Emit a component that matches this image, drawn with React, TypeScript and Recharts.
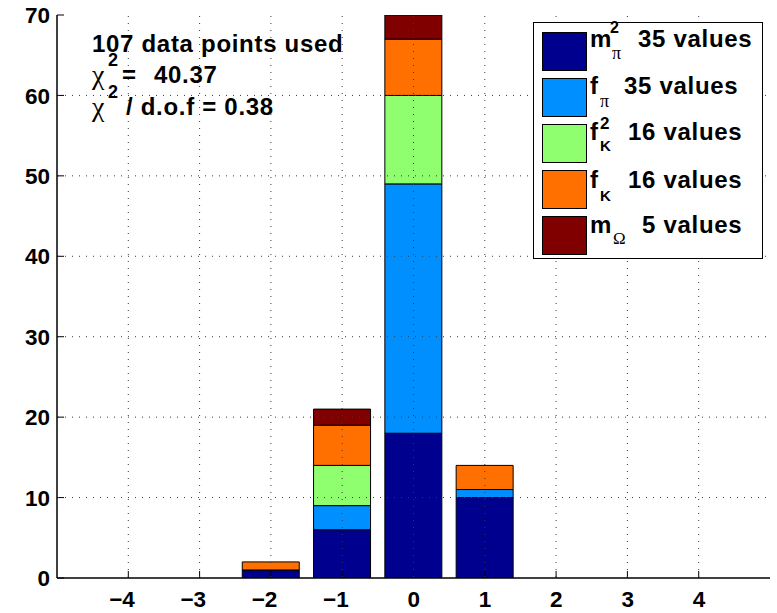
import React from 'react';
import { BarChart, Bar, XAxis, YAxis, Legend } from 'recharts';

const bins = [-4, -3, -2, -1, 0, 1, 2, 3, 4];
const mPi2 = [0, 0, 1, 6, 18, 10, 0, 0, 0];
const fPi = [0, 0, 0, 3, 31, 1, 0, 0, 0];
const fK2 = [0, 0, 0, 5, 11, 0, 0, 0, 0];
const fK = [0, 0, 1, 5, 7, 3, 0, 0, 0];
const mOmega = [0, 0, 0, 2, 3, 0, 0, 0, 0];

const seriesKeys = ['mPi2', 'fPi', 'fK2', 'fK', 'mOmega'];
const seriesColors = ['#00008F', '#008FFF', '#8FFF70', '#FF7000', '#800000'];
const seriesCounts = [35, 35, 16, 16, 5];

const xTicks = [-4, -3, -2, -1, 0, 1, 2, 3, 4];
const yTicks = [0, 10, 20, 30, 40, 50, 60, 70];
const xDomain = [-5, 5];
const yDomain = [0, 70];

const noteLine1 = '107 data points used';
const chi2Value = '40.37';
const chi2PerDof = '0.38';

const data = bins.map((b, i) => ({
  bin: b,
  mPi2: mPi2[i],
  fPi: fPi[i],
  fK2: fK2[i],
  fK: fK[i],
  mOmega: mOmega[i],
}));

const W = 777;
const H = 613;
const MARGIN = { top: 15, right: 7, bottom: 0, left: 0 };
const Y_AXIS_W = 57;
const X_AXIS_H = 35;
const PLOT = {
  x: MARGIN.left + Y_AXIS_W,
  y: MARGIN.top,
  w: W - MARGIN.left - Y_AXIS_W - MARGIN.right,
  h: H - MARGIN.top - MARGIN.bottom - X_AXIS_H,
};

const FONT = '"Liberation Sans", Arial, Helvetica, sans-serif';
const SERIF = '"Liberation Serif", "DejaVu Serif", serif';
const BIG = 24;
const LS = 0.7;
const TICKFS = 22.5;

const LegendBox = () => {
  const rowsY = [32, 78, 124, 170, 216];
  const base = [47, 94, 140, 188, 233];
  const valueX = [638, 624, 628, 628, 642];
  return (
    <svg width={W} height={H} style={{ position: 'absolute', left: 0, top: 0, overflow: 'visible', pointerEvents: 'none' }}>
      <rect x={533.5} y={22.5} width={229} height={236} fill="#fff" stroke="#000" strokeWidth={1} />
      {seriesKeys.map((k, i) => (
        <rect key={k} x={542.5} y={rowsY[i] + 0.5} width={44} height={38} fill={seriesColors[i]} stroke="#000" strokeWidth={1} />
      ))}
      <g fontFamily={FONT} fontWeight="bold" fill="#000">
        <text x={590} y={base[0]} fontSize={BIG}>m</text>
        <text x={610} y={33} fontSize={16}>2</text>
        <text x={612} y={59} fontSize={18} fontFamily={SERIF} fontWeight="normal">π</text>
        <text x={590} y={base[1]} fontSize={BIG}>f</text>
        <text x={600} y={107} fontSize={18} fontFamily={SERIF} fontWeight="normal">π</text>
        <text x={590} y={base[2]} fontSize={BIG}>f</text>
        <text x={600} y={129} fontSize={17}>2</text>
        <text x={600} y={151} fontSize={15}>K</text>
        <text x={590} y={base[3]} fontSize={BIG}>f</text>
        <text x={600} y={201} fontSize={15}>K</text>
        <text x={590} y={base[4]} fontSize={BIG}>m</text>
        <text x={613} y={244} fontSize={17} fontFamily={SERIF} fontWeight="normal">Ω</text>
        {seriesCounts.map((c, i) => (
          <text key={i} x={valueX[i]} y={base[i]} fontSize={BIG} letterSpacing={LS}>{c} values</text>
        ))}
      </g>
    </svg>
  );
};

const GRID = { stroke: '#3a3a3a', strokeDasharray: '1 6', strokeWidth: 1 };
const sx = (v: number) => PLOT.x + ((v - xDomain[0]) / (xDomain[1] - xDomain[0])) * PLOT.w;
const sy = (v: number) => PLOT.y + PLOT.h - ((v - yDomain[0]) / (yDomain[1] - yDomain[0])) * PLOT.h;

const GridAndNotes = () => (
  <svg width={W} height={H} style={{ position: 'absolute', left: 0, top: 0, pointerEvents: 'none', zIndex: 1 }}>
    <g>
      {xTicks.map((t) => (
        <line key={'v' + t} x1={sx(t)} x2={sx(t)} y1={PLOT.y + 1} y2={PLOT.y + PLOT.h - 1} {...GRID} />
      ))}
      {yTicks.slice(1, -1).map((t) => (
        <line key={'h' + t} x1={PLOT.x + 1} x2={PLOT.x + PLOT.w - 1} y1={sy(t)} y2={sy(t)} {...GRID} />
      ))}
    </g>
    <g fontFamily={FONT} fontWeight="bold" fill="#000" fontSize={BIG} letterSpacing={LS}>
      <text x={92} y={52}>{noteLine1}</text>
      <text x={92} y={84} fontFamily={SERIF} fontWeight="normal" fontSize={28} letterSpacing={0}>χ</text>
      <text x={108} y={66} fontSize={18} letterSpacing={0}>2</text>
      <text x={122} y={83}>=</text>
      <text x={154} y={83}>{chi2Value}</text>
      <text x={92} y={116} fontFamily={SERIF} fontWeight="normal" fontSize={28} letterSpacing={0}>χ</text>
      <text x={108} y={98} fontSize={18} letterSpacing={0}>2</text>
      <text x={126} y={115}>{'/ d.o.f = ' + chi2PerDof}</text>
    </g>
  </svg>
);

const BottomTick = (props: any) => {
  const { x, y, payload } = props;
  const v = payload.value as number;
  return (
    <g>
      <line x1={x} y1={y} x2={x} y2={y - 7} stroke="#000" strokeWidth={1} />
      <text x={x + 6.5} y={y + 29} textAnchor="end" fontFamily={FONT} fontWeight="bold" fontSize={TICKFS} fill="#000">
        {v < 0 ? '\u2212' + Math.abs(v) : String(v)}
      </text>
    </g>
  );
};

const TopTick = (props: any) => {
  const { x, y } = props;
  return <line x1={x} y1={y} x2={x} y2={y + 7} stroke="#000" strokeWidth={1} />;
};

const LeftTick = (props: any) => {
  const { x, y, payload } = props;
  return (
    <g>
      <line x1={x} y1={y} x2={x + 7} y2={y} stroke="#000" strokeWidth={1} />
      <text x={x - 7} y={y} dy="0.36em" textAnchor="end" fontFamily={FONT} fontWeight="bold" fontSize={TICKFS} fill="#000">
        {String(payload.value)}
      </text>
    </g>
  );
};

const RightTick = (props: any) => {
  const { x, y } = props;
  return <line x1={x} y1={y} x2={x - 7} y2={y} stroke="#000" strokeWidth={1} />;
};

export default function App() {
  return (
    <div style={{ position: 'absolute', left: 0, top: 0, width: W, height: H, background: '#fff' }}>
      <BarChart width={W} height={H} data={data} margin={MARGIN} barSize={57}>
        <XAxis
          dataKey="bin"
          type="number"
          domain={xDomain}
          ticks={xTicks}
          allowDataOverflow
          height={X_AXIS_H}
          tickSize={0}
          tickMargin={0}
          tickLine={false}
          axisLine={{ stroke: '#000', strokeWidth: 1.5 }}
          tick={BottomTick}
        />
        <XAxis
          xAxisId="top"
          orientation="top"
          dataKey="bin"
          type="number"
          domain={xDomain}
          ticks={xTicks}
          height={0}
          tickSize={0}
          tickMargin={0}
          tickLine={false}
          tick={TopTick}
          axisLine={{ stroke: '#000', strokeWidth: 1.2 }}
        />
        <YAxis
          type="number"
          domain={yDomain}
          ticks={yTicks}
          allowDataOverflow
          width={Y_AXIS_W}
          tickSize={0}
          tickMargin={0}
          tickLine={false}
          axisLine={{ stroke: '#000', strokeWidth: 1.5 }}
          tick={LeftTick}
        />
        <YAxis
          yAxisId="right"
          orientation="right"
          type="number"
          domain={yDomain}
          ticks={yTicks}
          width={0}
          tickSize={0}
          tickMargin={0}
          tickLine={false}
          tick={RightTick}
          axisLine={{ stroke: '#000', strokeWidth: 1.2 }}
        />
        {seriesKeys.map((k, i) => (
          <Bar key={k} dataKey={k} stackId="a" fill={seriesColors[i]} stroke="#000" strokeWidth={1} isAnimationActive={false} />
        ))}
        <Legend
          content={() => <LegendBox />}
          wrapperStyle={{ left: 0, top: 0, width: 0, height: 0, overflow: 'visible', zIndex: 2 }}
        />
      </BarChart>
      <GridAndNotes />
    </div>
  );
}
